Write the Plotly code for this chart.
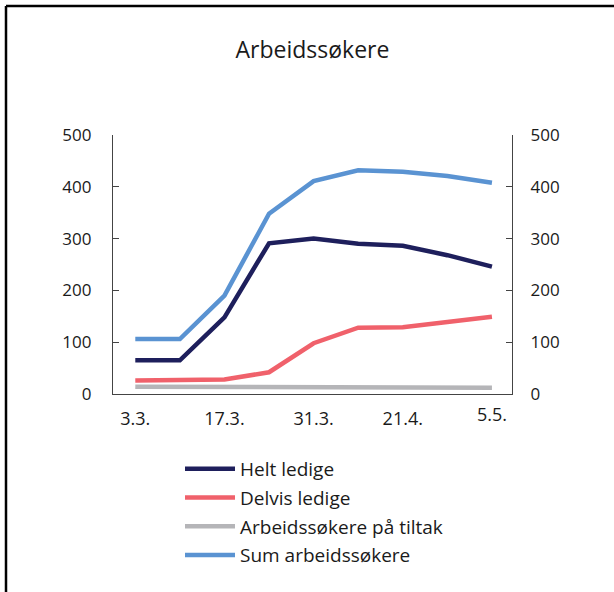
import plotly.graph_objects as go

categories = ["3.3.", "10.3.", "17.3.", "24.3.", "31.3.", "14.4.", "21.4.", "28.4.", "5.5."]
tick_labels = ["3.3.", "", "17.3.", "", "31.3.", "", "21.4.", "", "5.5."]
helt_ledige = [65, 65, 148, 291, 300, 290, 286, 268, 246]
delvis_ledige = [26, 26, 28, 42, 98, 128, 129, 139, 149]
paa_tiltak = [14, 14, 14, 14, 13, 13, 12, 12, 12]
sum_arbeidssokere = [106, 106, 190, 348, 411, 432, 429, 421, 408]

names = ["Helt ledige", "Delvis ledige", "Arbeidssøkere på tiltak", "Sum arbeidssøkere"]
series = [helt_ledige, delvis_ledige, paa_tiltak, sum_arbeidssokere]
colors = ["#1e1f5c", "#f0616b", "#b5b5b8", "#5a93d2"]

FONT = "Open Sans"
W, H = 614, 592
L, R, T, B = 113, 512, 135, 394

def px_x(p):
    return (p - L) / (R - L)

def px_y(p):
    return (B - p) / (B - T)

fig = go.Figure()
for i, (nm, vals, col) in enumerate(zip(names, series, colors)):
    fig.add_trace(go.Scatter(
        x=list(range(len(categories))), y=vals, name=nm, mode="lines",
        line=dict(color=col, width=4.5), legendgroup=f"g{i}",
        yaxis="y2" if i == 3 else "y",
        hoverinfo="skip",
    ))

axis_col = "#444444"
yax = dict(range=[0, 500], tickvals=[0, 100, 200, 300, 400, 500], ticks="inside",
           ticklen=6, tickcolor=axis_col, showline=True, linecolor=axis_col, linewidth=1.3,
           showgrid=False, zeroline=False, tickfont=dict(size=17, color="#1a1a1a", family=FONT),
           fixedrange=True)

ticktext = tick_labels[:-1] + [""]

fig.update_layout(
    width=W, height=H,
    margin=dict(l=L, r=W - R, t=T, b=H - B, pad=0),
    paper_bgcolor="white", plot_bgcolor="white",
    font=dict(family=FONT, color="#1a1a1a"),
    title=dict(text="Arbeidssøkere", x=0.5, xanchor="center", xref="paper",
               y=1 - 50 / H, yanchor="middle", font=dict(size=23, family=FONT, color="#1a1a1a")),
    xaxis=dict(range=[-0.5, 8.45], tickvals=list(range(len(categories))), ticktext=ticktext,
               ticks="", showline=True, linecolor=axis_col, linewidth=1.3, showgrid=False,
               zeroline=False, tickfont=dict(size=18, color="#1a1a1a", family=FONT),
               ticklabelstandoff=8, fixedrange=True),
    yaxis=dict(**yax, side="left", ticklabelstandoff=17),
    yaxis2=dict(**yax, side="right", overlaying="y", anchor="x", ticklabelstandoff=14),
    legend=dict(x=px_x(180), y=px_y(450), xanchor="left", yanchor="top",
                traceorder="grouped", tracegroupgap=1, font=dict(size=19, family=FONT),
                bgcolor="rgba(0,0,0,0)", itemwidth=50),
    showlegend=True,
)

# last tick label sits slightly higher in the reference
fig.add_annotation(x=8, y=px_y(414), xref="x", yref="paper", text=tick_labels[-1],
                   showarrow=False, font=dict(size=18, family=FONT, color="#1a1a1a"),
                   xanchor="center", yanchor="middle")

# frame (top and left edges)
fig.add_shape(type="line", xref="paper", yref="paper", x0=px_x(6), x1=px_x(W + 5),
              y0=px_y(6), y1=px_y(6), line=dict(color="black", width=2.5))
fig.add_shape(type="line", xref="paper", yref="paper", x0=px_x(6), x1=px_x(6),
              y0=px_y(6), y1=px_y(H + 5), line=dict(color="black", width=2.5))

fig.write_html("out.html", config={"displayModeBar": False},
               post_script="document.body.style.margin='0';document.body.style.overflow='hidden';")
